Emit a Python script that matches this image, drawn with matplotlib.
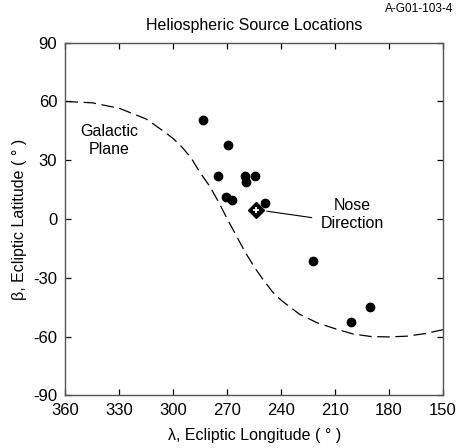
import matplotlib
matplotlib.use("Agg")
import matplotlib.pyplot as plt

plt.rcParams['font.family'] = ['Liberation Sans', 'DejaVu Sans']
plt.rcParams['axes.unicode_minus'] = False

# source locations (ecliptic longitude, latitude)
src_lon = [283.5, 269.6, 275.1, 260.0, 259.6, 254.5, 270.7, 267.5, 249.0, 222.4, 190.7, 201.0]
src_lat = [50.5, 37.7, 21.9, 22.2, 19.1, 22.2, 11.0, 9.6, 8.2, -21.6, -45.1, -52.6]

# nose direction
nose_lon = [254.0]
nose_lat = [4.8]

# galactic plane
gal_lon = [360, 345, 330, 315, 305, 300, 295, 290, 285, 280, 275, 270, 265, 260,
           255, 250, 245, 240, 230, 220, 210, 200, 190, 180, 170, 160, 150]
gal_lat = [60.0, 59.3, 56.5, 51.0, 44.5, 41.0, 36.5, 31.0, 23.5, 17.0, 9.0, 0.0, -8.5, -17.0,
           -24.5, -31.0, -37.0, -41.5, -48.5, -53.0, -56.0, -58.7, -60.0, -60.2, -59.8, -58.5, -56.5]

xticks = [360, 330, 300, 270, 240, 210, 180, 150]
yticks = [90, 60, 30, 0, -30, -60, -90]

fig = plt.figure(figsize=(4.57, 4.48), dpi=100)
ax = fig.add_axes([0.1433, 0.1176, 0.8261, 0.7871])

ax.plot(gal_lon, gal_lat, color='black', lw=0.9, linestyle=(0, (10, 4.5)))
ax.plot(src_lon, src_lat, 'o', color='black', ms=6)
ax.plot(nose_lon, nose_lat, 'D', color='black', ms=8)
ax.plot(nose_lon, nose_lat, '+', color='white', ms=4, mew=1.3)

ax.annotate('', xy=(248, 4.0), xytext=(223, 0.7),
            arrowprops=dict(arrowstyle='-', color='black', lw=0.8, shrinkA=0, shrinkB=0))
ax.text(200.6, 2.4, 'Nose\nDirection', ha='center', va='center', fontsize=11.5, linespacing=1.2)
ax.text(335.8, 40.0, 'Galactic\nPlane', ha='center', va='center', fontsize=11.5, linespacing=1.2)

ax.set_xlim(360, 150)
ax.set_ylim(-90, 90)
ax.set_xticks(xticks)
ax.set_yticks(yticks)
ax.tick_params(direction='in', top=True, right=True, length=4, width=0.9,
               labelsize=12)
ax.tick_params(axis='y', pad=6)
ax.tick_params(axis='x', pad=5.5)
for s in ax.spines.values():
    s.set_color('#555555')
    s.set_linewidth(1.0)

ax.set_xlabel('λ, Ecliptic Longitude ( ° )', fontsize=11.5, labelpad=7)
ax.set_ylabel('β, Ecliptic Latitude ( ° )', fontsize=11.5, labelpad=4)
ax.set_title('Heliospheric Source Locations', fontsize=11.5, pad=9)
fig.text(0.993, 0.980, 'A-G01-103-4', ha='right', va='center', fontsize=8.5)

fig.savefig('out.png', dpi=100)
